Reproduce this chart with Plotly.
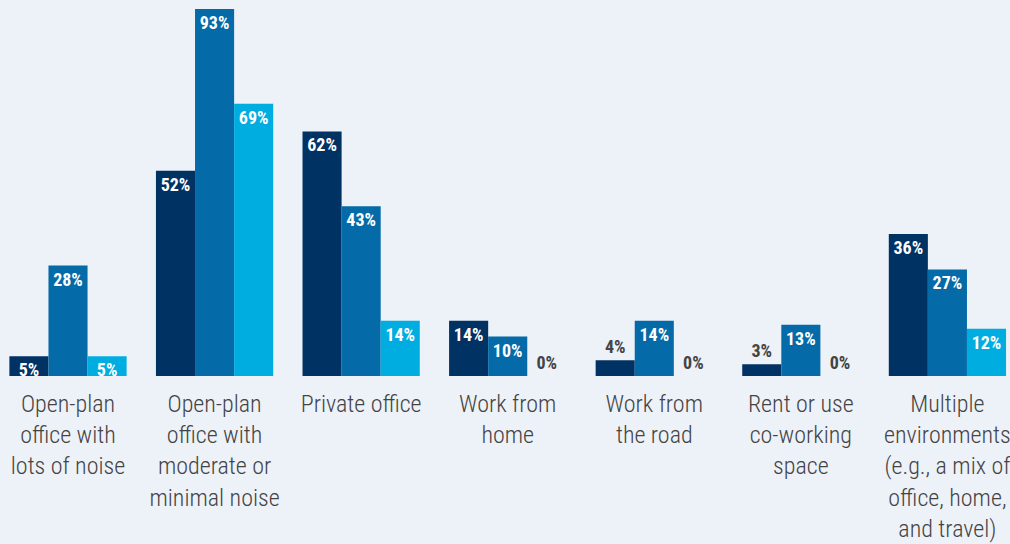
import plotly.graph_objects as go

# Workplace environment categories (x axis)
categories = [
    "Open-plan<br>office with<br>lots of noise",
    "Open-plan<br>office with<br>moderate or<br>minimal noise",
    "Private office",
    "Work from<br>home",
    "Work from<br>the road",
    "Rent or use<br>co-working<br>space",
    "Multiple<br>environments<br>(e.g., a mix of<br>office, home,<br>and travel)",
]

# Three respondent groups, percent values
series_a = [5, 52, 62, 14, 4, 3, 36]
series_b = [28, 93, 43, 10, 14, 13, 27]
series_c = [5, 69, 14, 0, 0, 0, 12]

colors = ["#003264", "#046aa8", "#00ade0"]
bg = "#edf1f8"
label_font = "Roboto Condensed, Liberation Sans Narrow, sans-serif"

# Values too small for an inside label get printed above the bar
INSIDE_MIN = 5


def positions(vals):
    return ["inside" if v >= INSIDE_MIN else "outside" for v in vals]


def text_colors(vals):
    return ["#ffffff" if v >= INSIDE_MIN else "#444444" for v in vals]


fig = go.Figure()
for vals, col in zip([series_a, series_b, series_c], colors):
    fig.add_trace(
        go.Bar(
            x=categories,
            y=vals,
            marker=dict(color=col, line=dict(width=0)),
            text=[f"{v}%" for v in vals],
            textposition=positions(vals),
            insidetextanchor="end",
            textangle=0,
            constraintext="none",
            cliponaxis=False,
            textfont=dict(family=label_font, size=18, color=text_colors(vals), weight=700),
            hoverinfo="skip",
        )
    )

fig.update_layout(
    width=1010,
    height=544,
    barmode="group",
    bargap=0.2,
    bargroupgap=0,
    showlegend=False,
    paper_bgcolor=bg,
    plot_bgcolor=bg,
    margin=dict(l=0, r=0, t=0, b=168, pad=0),
    uniformtext=dict(minsize=18, mode="show"),
    xaxis=dict(
        type="category",
        range=[-0.464, 6.427],
        showgrid=False,
        showline=False,
        zeroline=False,
        ticks="",
        tickangle=0,
        ticklabelstandoff=11,
        tickfont=dict(family=label_font, size=24, color="#444444", weight=300),
    ),
    yaxis=dict(
        range=[0, 95.3],
        visible=False,
        showgrid=False,
        zeroline=False,
    ),
)

fig.write_html("out.html")
